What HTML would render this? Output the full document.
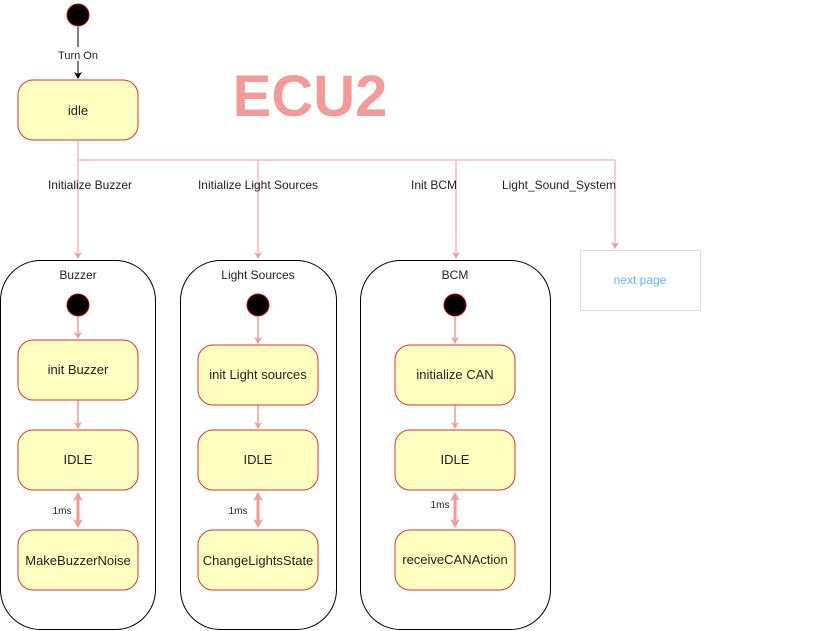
<!DOCTYPE html>
<html><head><meta charset="utf-8"><style>
body{margin:0;background:#fff}
svg{display:block}
text{font-family:"Liberation Sans",Arial,sans-serif;fill:#222}
</style></head><body>
<svg width="831" height="631" viewBox="0 0 831 631" xmlns="http://www.w3.org/2000/svg">
<defs>
<marker id="pa" markerWidth="8" markerHeight="8" refX="6" refY="4" orient="auto" markerUnits="userSpaceOnUse"><path d="M0,0 L7,4 L0,8 L2,4 Z" fill="#F19C99"/></marker>
<marker id="ba" markerWidth="8" markerHeight="8" refX="6" refY="4" orient="auto" markerUnits="userSpaceOnUse"><path d="M0,0 L7,4 L0,8 L2,4 Z" fill="#000"/></marker>
<marker id="pb" markerWidth="10" markerHeight="10" refX="7" refY="5" orient="auto-start-reverse" markerUnits="userSpaceOnUse"><path d="M0,0 L9,5 L0,10 L2.5,5 Z" fill="#F19C99"/></marker>
</defs>

<circle cx="78" cy="15" r="11" fill="#000" stroke="#c00" stroke-width="1"/>
<line x1="78" y1="27" x2="78" y2="78" stroke="#000" stroke-width="1" marker-end="url(#ba)"/>
<rect x="50" y="47" width="56" height="14" fill="#fff"/>
<text x="78" y="59" font-size="11" text-anchor="middle">Turn On</text>
<rect x="18" y="80" width="120" height="60" rx="15" fill="#FFFFC0" stroke="#D33" stroke-width="1"/>
<text x="78" y="115" font-size="13" text-anchor="middle">idle</text>

<text x="310" y="116" font-size="58" font-weight="bold" text-anchor="middle" style="fill:#F19C99">ECU2</text>

<g stroke="#F19C99" stroke-width="1" fill="none">
<polyline points="78,140 78,160 615,160"/>
<line x1="78" y1="160" x2="78" y2="258" marker-end="url(#pa)"/>
<line x1="258" y1="160" x2="258" y2="258" marker-end="url(#pa)"/>
<line x1="456" y1="160" x2="456" y2="258" marker-end="url(#pa)"/>
<line x1="615" y1="160" x2="615" y2="248" marker-end="url(#pa)"/>
</g>
<g font-size="12" text-anchor="middle">
<text x="90" y="189">Initialize Buzzer</text>
<text x="258" y="189">Initialize Light Sources</text>
<text x="434" y="189">Init BCM</text>
<text x="559" y="189">Light_Sound_System</text>
</g>

<rect x="580.5" y="250.5" width="120" height="60" fill="#fff" stroke="#ddd"/>
<text x="640" y="284" font-size="12" text-anchor="middle" style="fill:#66B2FF">next page</text>

<g fill="none" stroke="#000" stroke-width="1">
<rect x="0.5" y="260.5" width="155" height="369" rx="40"/>
<rect x="180.5" y="260.5" width="156" height="369" rx="40"/>
<rect x="360.5" y="260.5" width="190" height="369" rx="40"/>
</g>
<g font-size="12" text-anchor="middle">
<text x="78" y="279">Buzzer</text>
<text x="258" y="279">Light Sources</text>
<text x="455" y="279">BCM</text>
</g>

<g>
<circle cx="78" cy="305" r="11" fill="#000" stroke="#c00"/>
<circle cx="258" cy="305" r="11" fill="#000" stroke="#c00"/>
<circle cx="455" cy="305" r="11" fill="#000" stroke="#c00"/>
</g>
<g stroke="#F19C99" stroke-width="1.5" fill="none">
<line x1="78" y1="317" x2="78" y2="338" marker-end="url(#pa)"/>
<line x1="78" y1="400" x2="78" y2="428" marker-end="url(#pa)"/>
<line x1="258" y1="317" x2="258" y2="343" marker-end="url(#pa)"/>
<line x1="258" y1="405" x2="258" y2="428" marker-end="url(#pa)"/>
<line x1="455" y1="317" x2="455" y2="343" marker-end="url(#pa)"/>
<line x1="455" y1="405" x2="455" y2="428" marker-end="url(#pa)"/>
</g>
<g stroke="#F19C99" stroke-width="3" fill="none">
<line x1="78" y1="494" x2="78" y2="526" marker-start="url(#pb)" marker-end="url(#pb)"/>
<line x1="258" y1="494" x2="258" y2="526" marker-start="url(#pb)" marker-end="url(#pb)"/>
<line x1="455" y1="494" x2="455" y2="526" marker-start="url(#pb)" marker-end="url(#pb)"/>
</g>
<g font-size="10" text-anchor="middle">
<text x="62" y="514">1ms</text>
<text x="238" y="514">1ms</text>
<text x="440" y="508">1ms</text>
</g>

<g fill="#FFFFC0" stroke="#D33" stroke-width="1">
<rect x="18" y="340" width="120" height="60" rx="15"/>
<rect x="18" y="430" width="120" height="60" rx="15"/>
<rect x="18" y="530" width="120" height="60" rx="15"/>
<rect x="198" y="345" width="120" height="60" rx="15"/>
<rect x="198" y="430" width="120" height="60" rx="15"/>
<rect x="198" y="530" width="120" height="60" rx="15"/>
<rect x="395" y="345" width="120" height="60" rx="15"/>
<rect x="395" y="430" width="120" height="60" rx="15"/>
<rect x="395" y="530" width="120" height="60" rx="15"/>
</g>
<g font-size="13" text-anchor="middle">
<text x="78" y="374">init Buzzer</text>
<text x="78" y="464">IDLE</text>
<text x="78" y="565">MakeBuzzerNoise</text>
<text x="258" y="379">init Light sources</text>
<text x="258" y="464">IDLE</text>
<text x="258" y="565">ChangeLightsState</text>
<text x="455" y="379">initialize CAN</text>
<text x="455" y="464">IDLE</text>
<text x="455" y="564">receiveCANAction</text>
</g>
</svg>
</body></html>
